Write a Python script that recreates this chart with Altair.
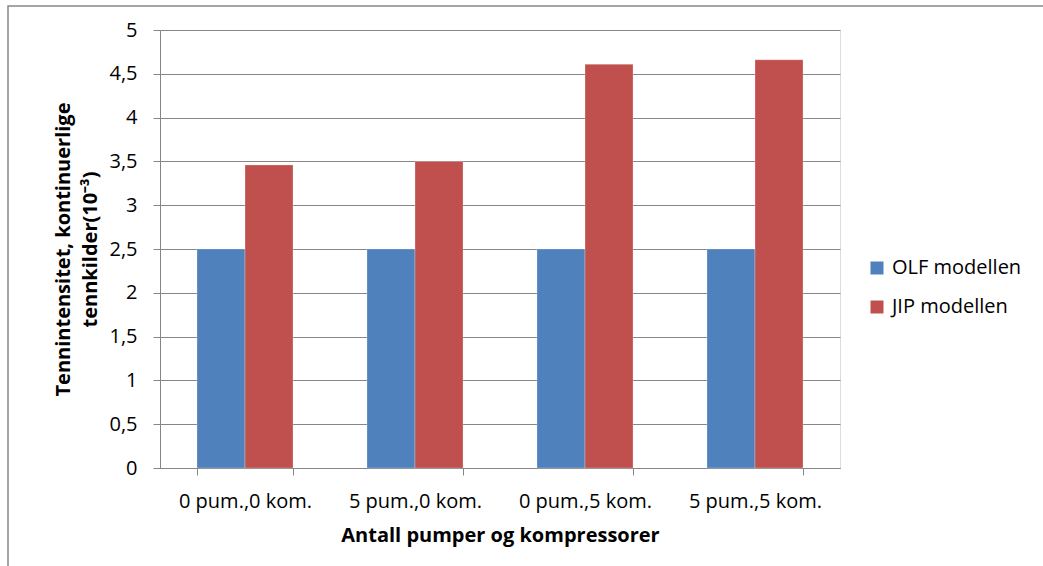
import altair as alt
import pandas as pd

categories = ["0 pum.,0 kom.", "5 pum.,0 kom.", "0 pum.,5 kom.", "5 pum.,5 kom."]
series = ["OLF modellen", "JIP modellen"]
olf_values = [2.5, 2.5, 2.5, 2.5]
jip_values = [3.46, 3.50, 4.61, 4.66]
colors = ["#4F81BD", "#C0504D"]

rows = []
for c, o, j in zip(categories, olf_values, jip_values):
    rows.append({"kategori": c, "serie": series[0], "verdi": o})
    rows.append({"kategori": c, "serie": series[1], "verdi": j})
df = pd.DataFrame(rows)

FONT = "Open Sans"

bars = alt.Chart(df).mark_bar(stroke="white", strokeOpacity=0.25, strokeWidth=1).encode(
    x=alt.X("kategori:N", sort=categories,
            scale=alt.Scale(paddingInner=0.435, paddingOuter=0.2175),
            axis=alt.Axis(title="Antall pumper og kompressorer", labelAngle=0,
                          tickBand="extent", tickSize=7, tickColor="#868686",
                          domainColor="#868686", labelFontSize=20, labelPadding=16,
                          labelFont=FONT, labelColor="#000000",
                          titleFont=FONT, titleFontSize=20, titleFontWeight="bold",
                          titleColor="#000000", titlePadding=14)),
    xOffset=alt.XOffset("serie:N", sort=series),
    y=alt.Y("verdi:Q", scale=alt.Scale(domain=[0, 5]),
            axis=alt.Axis(values=[0, 0.5, 1, 1.5, 2, 2.5, 3, 3.5, 4, 4.5, 5],
                          labelExpr="replace(format(datum.value, '~g'), '.', ',')",
                          title=["Tennintensitet, kontinuerlige", "tennkilder(10⁻³)"],
                          titleFont=FONT, titleFontSize=20, titleFontWeight="bold",
                          titleColor="#000000", titlePadding=8, titleLineHeight=27,
                          tickSize=7, tickColor="#868686", domainColor="#868686",
                          gridColor="#868686", gridWidth=1,
                          labelFont=FONT, labelFontSize=20, labelColor="#000000",
                          labelPadding=16)),
    color=alt.Color("serie:N", sort=series,
                    scale=alt.Scale(domain=series, range=colors),
                    legend=alt.Legend(title=None, orient="none", legendX=707, legendY=228,
                                      symbolType="square", symbolSize=169,
                                      symbolStrokeWidth=0, labelFont=FONT,
                                      labelFontSize=20, labelColor="#000000",
                                      rowPadding=19, labelOffset=5)),
)

border = alt.Chart(pd.DataFrame({"a": [0]})).mark_rect(
    fill=None, stroke="#888888", strokeWidth=1.5
).encode(x=alt.value(-152), x2=alt.value(900), y=alt.value(-24), y2=alt.value(580))

chart = alt.layer(border, bars).properties(
    width=680, height=438,
    autosize=alt.AutoSizeParams(type="none"),
    padding={"left": 160, "top": 30, "right": 203, "bottom": 98},
).configure_view(stroke=None).configure(background="white")

chart.save("out.html", embed_options={"renderer": "svg", "actions": False})
